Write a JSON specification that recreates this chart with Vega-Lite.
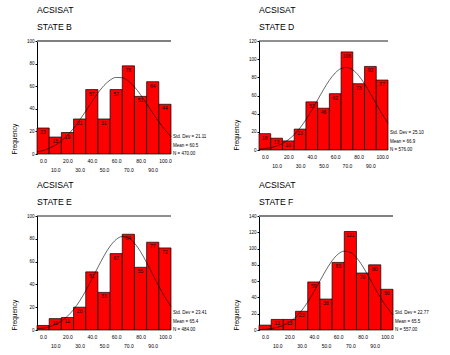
{
  "$schema": "https://vega.github.io/schema/vega-lite/v6.json",
  "padding": {"left": 11, "top": 6, "right": 2, "bottom": 2},
  "bounds": "flush",
  "columns": 2,
  "spacing": {"row": 62, "column": 88},
  "datasets": {
    "bars": [
      {"state": "B", "score": 0, "count": 23}, {"state": "B", "score": 10, "count": 15}, {"state": "B", "score": 20, "count": 19}, {"state": "B", "score": 30, "count": 31}, {"state": "B", "score": 40, "count": 57}, {"state": "B", "score": 50, "count": 31}, {"state": "B", "score": 60, "count": 57}, {"state": "B", "score": 70, "count": 78}, {"state": "B", "score": 80, "count": 51}, {"state": "B", "score": 90, "count": 64}, {"state": "B", "score": 100, "count": 44},
      {"state": "D", "score": 0, "count": 18}, {"state": "D", "score": 10, "count": 13}, {"state": "D", "score": 20, "count": 10}, {"state": "D", "score": 30, "count": 23}, {"state": "D", "score": 40, "count": 53}, {"state": "D", "score": 50, "count": 46}, {"state": "D", "score": 60, "count": 62}, {"state": "D", "score": 70, "count": 108}, {"state": "D", "score": 80, "count": 73}, {"state": "D", "score": 90, "count": 92}, {"state": "D", "score": 100, "count": 77},
      {"state": "E", "score": 0, "count": 4}, {"state": "E", "score": 10, "count": 10}, {"state": "E", "score": 20, "count": 11}, {"state": "E", "score": 30, "count": 20}, {"state": "E", "score": 40, "count": 51}, {"state": "E", "score": 50, "count": 33}, {"state": "E", "score": 60, "count": 67}, {"state": "E", "score": 70, "count": 84}, {"state": "E", "score": 80, "count": 55}, {"state": "E", "score": 90, "count": 77}, {"state": "E", "score": 100, "count": 72},
      {"state": "F", "score": 0, "count": 6}, {"state": "F", "score": 10, "count": 13}, {"state": "F", "score": 20, "count": 13}, {"state": "F", "score": 30, "count": 23}, {"state": "F", "score": 40, "count": 59}, {"state": "F", "score": 50, "count": 38}, {"state": "F", "score": 60, "count": 83}, {"state": "F", "score": 70, "count": 121}, {"state": "F", "score": 80, "count": 70}, {"state": "F", "score": 90, "count": 80}, {"state": "F", "score": 100, "count": 50}
    ],
    "curve": [
      {"state": "B", "score": -5, "freq": 1.9}, {"state": "B", "score": 0, "freq": 3.1}, {"state": "B", "score": 5, "freq": 5.1}, {"state": "B", "score": 10, "freq": 7.8}, {"state": "B", "score": 15, "freq": 11.6}, {"state": "B", "score": 20, "freq": 16.6}, {"state": "B", "score": 25, "freq": 22.7}, {"state": "B", "score": 30, "freq": 30.0}, {"state": "B", "score": 35, "freq": 38.0}, {"state": "B", "score": 40, "freq": 46.2}, {"state": "B", "score": 45, "freq": 54.0}, {"state": "B", "score": 50, "freq": 60.6}, {"state": "B", "score": 55, "freq": 65.4}, {"state": "B", "score": 60, "freq": 67.8}, {"state": "B", "score": 65, "freq": 67.5}, {"state": "B", "score": 70, "freq": 64.6}, {"state": "B", "score": 75, "freq": 59.4}, {"state": "B", "score": 80, "freq": 52.5}, {"state": "B", "score": 85, "freq": 44.5}, {"state": "B", "score": 90, "freq": 36.3}, {"state": "B", "score": 95, "freq": 28.5}, {"state": "B", "score": 100, "freq": 21.4}, {"state": "B", "score": 105, "freq": 15.5},
      {"state": "D", "score": -5, "freq": 0.8}, {"state": "D", "score": 0, "freq": 1.5}, {"state": "D", "score": 5, "freq": 2.6}, {"state": "D", "score": 10, "freq": 4.4}, {"state": "D", "score": 15, "freq": 7.2}, {"state": "D", "score": 20, "freq": 11.3}, {"state": "D", "score": 25, "freq": 16.9}, {"state": "D", "score": 30, "freq": 24.3}, {"state": "D", "score": 35, "freq": 33.4}, {"state": "D", "score": 40, "freq": 43.9}, {"state": "D", "score": 45, "freq": 55.2}, {"state": "D", "score": 50, "freq": 66.5}, {"state": "D", "score": 55, "freq": 76.8}, {"state": "D", "score": 60, "freq": 84.8}, {"state": "D", "score": 65, "freq": 89.7}, {"state": "D", "score": 70, "freq": 90.9}, {"state": "D", "score": 75, "freq": 88.2}, {"state": "D", "score": 80, "freq": 81.9}, {"state": "D", "score": 85, "freq": 72.9}, {"state": "D", "score": 90, "freq": 62.1}, {"state": "D", "score": 95, "freq": 50.6}, {"state": "D", "score": 100, "freq": 39.5}, {"state": "D", "score": 105, "freq": 29.5},
      {"state": "E", "score": -5, "freq": 0.9}, {"state": "E", "score": 0, "freq": 1.6}, {"state": "E", "score": 5, "freq": 2.8}, {"state": "E", "score": 10, "freq": 4.8}, {"state": "E", "score": 15, "freq": 7.8}, {"state": "E", "score": 20, "freq": 12.1}, {"state": "E", "score": 25, "freq": 17.9}, {"state": "E", "score": 30, "freq": 25.4}, {"state": "E", "score": 35, "freq": 34.4}, {"state": "E", "score": 40, "freq": 44.5}, {"state": "E", "score": 45, "freq": 55.0}, {"state": "E", "score": 50, "freq": 65.0}, {"state": "E", "score": 55, "freq": 73.5}, {"state": "E", "score": 60, "freq": 79.4}, {"state": "E", "score": 65, "freq": 82.0}, {"state": "E", "score": 70, "freq": 80.8}, {"state": "E", "score": 75, "freq": 76.2}, {"state": "E", "score": 80, "freq": 68.7}, {"state": "E", "score": 85, "freq": 59.1}, {"state": "E", "score": 90, "freq": 48.7}, {"state": "E", "score": 95, "freq": 38.3}, {"state": "E", "score": 100, "freq": 28.8}, {"state": "E", "score": 105, "freq": 20.7},
      {"state": "F", "score": -5, "freq": 0.4}, {"state": "F", "score": 0, "freq": 0.9}, {"state": "F", "score": 5, "freq": 1.7}, {"state": "F", "score": 10, "freq": 3.3}, {"state": "F", "score": 15, "freq": 5.8}, {"state": "F", "score": 20, "freq": 9.8}, {"state": "F", "score": 25, "freq": 15.7}, {"state": "F", "score": 30, "freq": 23.9}, {"state": "F", "score": 35, "freq": 34.3}, {"state": "F", "score": 40, "freq": 46.7}, {"state": "F", "score": 45, "freq": 60.2}, {"state": "F", "score": 50, "freq": 73.5}, {"state": "F", "score": 55, "freq": 85.1}, {"state": "F", "score": 60, "freq": 93.3}, {"state": "F", "score": 65, "freq": 96.9}, {"state": "F", "score": 70, "freq": 95.3}, {"state": "F", "score": 75, "freq": 88.9}, {"state": "F", "score": 80, "freq": 78.5}, {"state": "F", "score": 85, "freq": 65.6}, {"state": "F", "score": 90, "freq": 52.0}, {"state": "F", "score": 95, "freq": 39.1}, {"state": "F", "score": 100, "freq": 27.8}, {"state": "F", "score": 105, "freq": 18.7}
    ],
    "stats": [
      {"state": "B", "lines": ["Std. Dev = 21.11", "Mean = 60.5", "N = 470.00"]},
      {"state": "D", "lines": ["Std. Dev = 25.10", "Mean = 66.9", "N = 576.00"]},
      {"state": "E", "lines": ["Std. Dev = 23.41", "Mean = 65.4", "N = 484.00"]},
      {"state": "F", "lines": ["Std. Dev = 22.77", "Mean = 65.5", "N = 557.00"]}
    ]
  },
  "concat": [
    {
      "width": 134, "height": 113,
      "title": {"text": ["ACSISAT", "STATE B"]},
      "resolve": {"axis": {"x": "independent", "y": "independent"}},
      "layer": [
        {"data": {"name": "bars"}, "transform": [{"filter": "datum.state === 'B'"}, {"calculate": "datum.score - 5", "as": "lo"}, {"calculate": "datum.score + 5", "as": "hi"}],
         "mark": {"type": "rect", "fill": "#ff0000", "stroke": "#000000", "strokeWidth": 0.7},
         "encoding": {
           "x": {"field": "lo", "type": "quantitative", "scale": {"domain": [-5, 105], "nice": false, "zero": false},
                 "axis": {"title": null, "values": [0, 10, 20, 30, 40, 50, 60, 70, 80, 90, 100], "labelExpr": "datum.value % 20 === 0 ? format(datum.value, '.1f') : [' ', format(datum.value, '.1f')]", "domain": false, "ticks": false, "grid": false, "labelOverlap": false, "labelFlush": false, "labelFontSize": 5, "labelPadding": 4, "labelLineHeight": 9}},
           "x2": {"field": "hi"},
           "y": {"field": "count", "type": "quantitative", "scale": {"domain": [0, 100], "nice": false},
                 "axis": {"title": "Frequency", "values": [0, 20, 40, 60, 80, 100], "labelOverlap": false, "grid": false, "labelFontSize": 4.5, "tickSize": 2, "labelPadding": 1, "titleFontSize": 6.5, "titleFontWeight": "normal", "titleAnchor": "start", "titlePadding": 9, "domainColor": "#000", "tickColor": "#000"}},
           "y2": {"datum": 0}
         }},
        {"data": {"name": "bars"}, "transform": [{"filter": "datum.state === 'B' && datum.count > 6"}],
         "mark": {"type": "text", "baseline": "top", "dy": 2, "fontSize": 5, "color": "#000"},
         "encoding": {"x": {"field": "score", "type": "quantitative", "axis": null}, "y": {"field": "count", "type": "quantitative", "axis": null}, "text": {"field": "count", "type": "quantitative"}}},
        {"data": {"name": "curve"}, "transform": [{"filter": "datum.state === 'B'"}],
         "mark": {"type": "line", "color": "#000", "strokeWidth": 0.6, "interpolate": "monotone"},
         "encoding": {"x": {"field": "score", "type": "quantitative", "axis": null}, "y": {"field": "freq", "type": "quantitative", "axis": null}}},
        {"data": {"values": [{}]}, "mark": {"type": "rule", "color": "#808080", "strokeWidth": 2}, "encoding": {"y": {"datum": 100, "axis": null}}},
        {"data": {"name": "stats"}, "transform": [{"filter": "datum.state === 'B'"}],
         "mark": {"type": "text", "align": "left", "baseline": "middle", "dx": 2, "dy": -17, "fontSize": 4.5, "lineHeight": 8.5, "color": "#000"},
         "encoding": {"x": {"datum": 105, "axis": null}, "y": {"datum": 0, "axis": null}, "text": {"field": "lines"}}}
      ]
    },
    {
      "width": 129, "height": 109,
      "title": {"text": ["ACSISAT", "STATE D"]},
      "resolve": {"axis": {"x": "independent", "y": "independent"}},
      "layer": [
        {"data": {"name": "bars"}, "transform": [{"filter": "datum.state === 'D'"}, {"calculate": "datum.score - 5", "as": "lo"}, {"calculate": "datum.score + 5", "as": "hi"}],
         "mark": {"type": "rect", "fill": "#ff0000", "stroke": "#000000", "strokeWidth": 0.7},
         "encoding": {
           "x": {"field": "lo", "type": "quantitative", "scale": {"domain": [-5, 105], "nice": false, "zero": false},
                 "axis": {"title": null, "values": [0, 10, 20, 30, 40, 50, 60, 70, 80, 90, 100], "labelExpr": "datum.value % 20 === 0 ? format(datum.value, '.1f') : [' ', format(datum.value, '.1f')]", "domain": false, "ticks": false, "grid": false, "labelOverlap": false, "labelFlush": false, "labelFontSize": 5, "labelPadding": 4, "labelLineHeight": 9}},
           "x2": {"field": "hi"},
           "y": {"field": "count", "type": "quantitative", "scale": {"domain": [0, 120], "nice": false},
                 "axis": {"title": "Frequency", "values": [0, 20, 40, 60, 80, 100, 120], "labelOverlap": false, "grid": false, "labelFontSize": 4.5, "tickSize": 2, "labelPadding": 1, "titleFontSize": 6.5, "titleFontWeight": "normal", "titleAnchor": "start", "titlePadding": 9, "domainColor": "#000", "tickColor": "#000"}},
           "y2": {"datum": 0}
         }},
        {"data": {"name": "bars"}, "transform": [{"filter": "datum.state === 'D' && datum.count > 6"}],
         "mark": {"type": "text", "baseline": "top", "dy": 2, "fontSize": 5, "color": "#000"},
         "encoding": {"x": {"field": "score", "type": "quantitative", "axis": null}, "y": {"field": "count", "type": "quantitative", "axis": null}, "text": {"field": "count", "type": "quantitative"}}},
        {"data": {"name": "curve"}, "transform": [{"filter": "datum.state === 'D'"}],
         "mark": {"type": "line", "color": "#000", "strokeWidth": 0.6, "interpolate": "monotone"},
         "encoding": {"x": {"field": "score", "type": "quantitative", "axis": null}, "y": {"field": "freq", "type": "quantitative", "axis": null}}},
        {"data": {"values": [{}]}, "mark": {"type": "rule", "color": "#202020", "strokeWidth": 1}, "encoding": {"y": {"datum": 120, "axis": null}}},
        {"data": {"name": "stats"}, "transform": [{"filter": "datum.state === 'D'"}],
         "mark": {"type": "text", "align": "left", "baseline": "middle", "dx": 2, "dy": -17, "fontSize": 4.5, "lineHeight": 8.5, "color": "#000"},
         "encoding": {"x": {"datum": 105, "axis": null}, "y": {"datum": 0, "axis": null}, "text": {"field": "lines"}}}
      ]
    },
    {
      "width": 134, "height": 114,
      "title": {"text": ["ACSISAT", "STATE E"]},
      "resolve": {"axis": {"x": "independent", "y": "independent"}},
      "layer": [
        {"data": {"name": "bars"}, "transform": [{"filter": "datum.state === 'E'"}, {"calculate": "datum.score - 5", "as": "lo"}, {"calculate": "datum.score + 5", "as": "hi"}],
         "mark": {"type": "rect", "fill": "#ff0000", "stroke": "#000000", "strokeWidth": 0.7},
         "encoding": {
           "x": {"field": "lo", "type": "quantitative", "scale": {"domain": [-5, 105], "nice": false, "zero": false},
                 "axis": {"title": null, "values": [0, 10, 20, 30, 40, 50, 60, 70, 80, 90, 100], "labelExpr": "datum.value % 20 === 0 ? format(datum.value, '.1f') : [' ', format(datum.value, '.1f')]", "domain": false, "ticks": false, "grid": false, "labelOverlap": false, "labelFlush": false, "labelFontSize": 5, "labelPadding": 4, "labelLineHeight": 9}},
           "x2": {"field": "hi"},
           "y": {"field": "count", "type": "quantitative", "scale": {"domain": [0, 100], "nice": false},
                 "axis": {"title": "Frequency", "values": [0, 20, 40, 60, 80, 100], "labelOverlap": false, "grid": false, "labelFontSize": 4.5, "tickSize": 2, "labelPadding": 1, "titleFontSize": 6.5, "titleFontWeight": "normal", "titleAnchor": "start", "titlePadding": 9, "domainColor": "#000", "tickColor": "#000"}},
           "y2": {"datum": 0}
         }},
        {"data": {"name": "bars"}, "transform": [{"filter": "datum.state === 'E' && datum.count > 6"}],
         "mark": {"type": "text", "baseline": "top", "dy": 2, "fontSize": 5, "color": "#000"},
         "encoding": {"x": {"field": "score", "type": "quantitative", "axis": null}, "y": {"field": "count", "type": "quantitative", "axis": null}, "text": {"field": "count", "type": "quantitative"}}},
        {"data": {"name": "curve"}, "transform": [{"filter": "datum.state === 'E'"}],
         "mark": {"type": "line", "color": "#000", "strokeWidth": 0.6, "interpolate": "monotone"},
         "encoding": {"x": {"field": "score", "type": "quantitative", "axis": null}, "y": {"field": "freq", "type": "quantitative", "axis": null}}},
        {"data": {"values": [{}]}, "mark": {"type": "rule", "color": "#202020", "strokeWidth": 1}, "encoding": {"y": {"datum": 100, "axis": null}}},
        {"data": {"name": "stats"}, "transform": [{"filter": "datum.state === 'E'"}],
         "mark": {"type": "text", "align": "left", "baseline": "middle", "dx": 2, "dy": -17, "fontSize": 4.5, "lineHeight": 8.5, "color": "#000"},
         "encoding": {"x": {"datum": 105, "axis": null}, "y": {"datum": 0, "axis": null}, "text": {"field": "lines"}}}
      ]
    },
    {
      "width": 134, "height": 114,
      "title": {"text": ["ACSISAT", "STATE F"]},
      "resolve": {"axis": {"x": "independent", "y": "independent"}},
      "layer": [
        {"data": {"name": "bars"}, "transform": [{"filter": "datum.state === 'F'"}, {"calculate": "datum.score - 5", "as": "lo"}, {"calculate": "datum.score + 5", "as": "hi"}],
         "mark": {"type": "rect", "fill": "#ff0000", "stroke": "#000000", "strokeWidth": 0.7},
         "encoding": {
           "x": {"field": "lo", "type": "quantitative", "scale": {"domain": [-5, 105], "nice": false, "zero": false},
                 "axis": {"title": null, "values": [0, 10, 20, 30, 40, 50, 60, 70, 80, 90, 100], "labelExpr": "datum.value % 20 === 0 ? format(datum.value, '.1f') : [' ', format(datum.value, '.1f')]", "domain": false, "ticks": false, "grid": false, "labelOverlap": false, "labelFlush": false, "labelFontSize": 5, "labelPadding": 4, "labelLineHeight": 9}},
           "x2": {"field": "hi"},
           "y": {"field": "count", "type": "quantitative", "scale": {"domain": [0, 140], "nice": false},
                 "axis": {"title": "Frequency", "values": [0, 20, 40, 60, 80, 100, 120, 140], "labelOverlap": false, "grid": false, "labelFontSize": 4.5, "tickSize": 2, "labelPadding": 1, "titleFontSize": 6.5, "titleFontWeight": "normal", "titleAnchor": "start", "titlePadding": 9, "domainColor": "#000", "tickColor": "#000"}},
           "y2": {"datum": 0}
         }},
        {"data": {"name": "bars"}, "transform": [{"filter": "datum.state === 'F' && datum.count > 6"}],
         "mark": {"type": "text", "baseline": "top", "dy": 2, "fontSize": 5, "color": "#000"},
         "encoding": {"x": {"field": "score", "type": "quantitative", "axis": null}, "y": {"field": "count", "type": "quantitative", "axis": null}, "text": {"field": "count", "type": "quantitative"}}},
        {"data": {"name": "curve"}, "transform": [{"filter": "datum.state === 'F'"}],
         "mark": {"type": "line", "color": "#000", "strokeWidth": 0.6, "interpolate": "monotone"},
         "encoding": {"x": {"field": "score", "type": "quantitative", "axis": null}, "y": {"field": "freq", "type": "quantitative", "axis": null}}},
        {"data": {"values": [{}]}, "mark": {"type": "rule", "color": "#808080", "strokeWidth": 2}, "encoding": {"y": {"datum": 140, "axis": null}}},
        {"data": {"name": "stats"}, "transform": [{"filter": "datum.state === 'F'"}],
         "mark": {"type": "text", "align": "left", "baseline": "middle", "dx": 2, "dy": -17, "fontSize": 4.5, "lineHeight": 8.5, "color": "#000"},
         "encoding": {"x": {"datum": 105, "axis": null}, "y": {"datum": 0, "axis": null}, "text": {"field": "lines"}}}
      ]
    }
  ],
  "config": {
    "font": "Liberation Sans",
    "view": {"stroke": null},
    "title": {"anchor": "start", "frame": "group", "fontSize": 8.7, "fontWeight": "normal", "lineHeight": 17, "offset": 6, "color": "#000000"},
    "axis": {"labelColor": "#000000", "titleColor": "#000000", "labelFont": "Liberation Sans", "titleFont": "Liberation Sans", "labelOverlap": false}
  }
}
